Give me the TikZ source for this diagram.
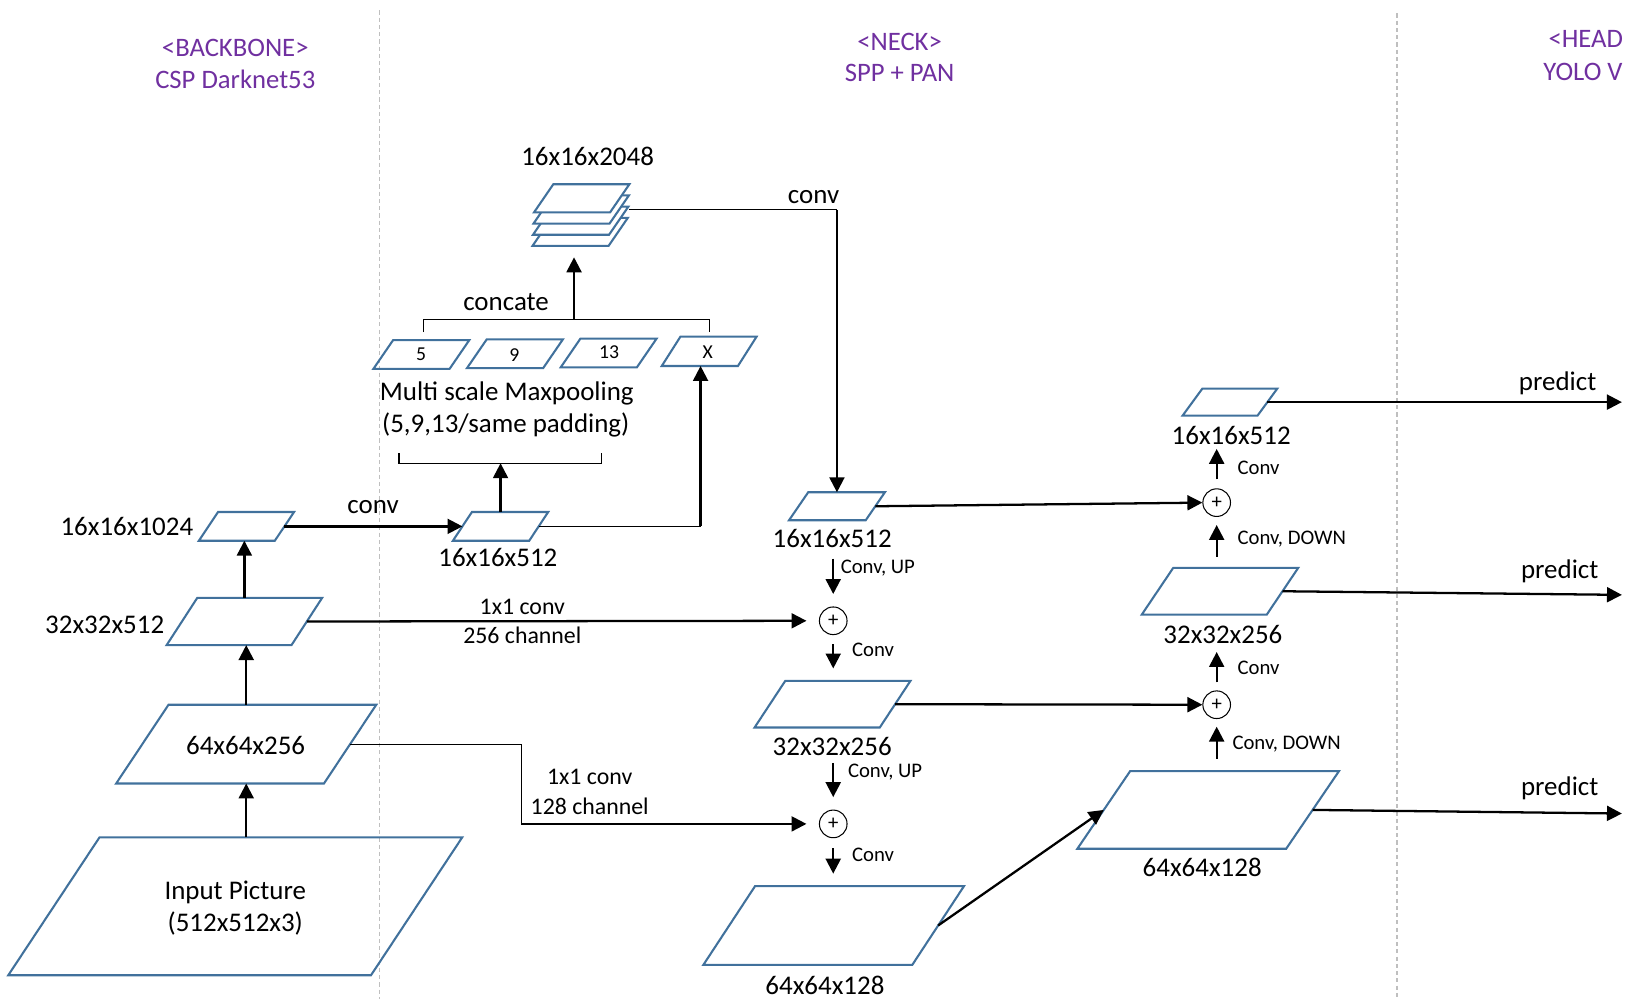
\documentclass[tikz,border=0pt]{standalone}
\usepackage{fontspec}
\setmainfont{Carlito}
\usetikzlibrary{arrows.meta,calc}
\definecolor{boxblue}{HTML}{41719C}
\definecolor{hdrpurple}{HTML}{7030A0}
\definecolor{sepgray}{HTML}{BFBFBF}
\tikzset{
  boxline/.style={draw=boxblue, line width=1.5pt, line join=miter},
  lblbig/.style={font=\fontsize{19.5pt}{23.25pt}\selectfont, inner sep=0pt},
  lblmid/.style={font=\fontsize{17.25pt}{21pt}\selectfont, inner sep=0pt},
  lblsml/.style={font=\fontsize{15pt}{18pt}\selectfont, inner sep=0pt},
  lblbox/.style={font=\fontsize{14.25pt}{17pt}\selectfont, inner sep=0pt},
  hdr/.style={font=\fontsize{19.3pt}{22pt}\selectfont, text=hdrpurple, inner sep=0pt},
  arr/.style={line width=1.65pt, -{Triangle[length=10.8pt,width=10.8pt]}},
  thinln/.style={line width=0.75pt},
  plusnode/.style={circle, draw, line width=0.75pt, minimum size=20pt, inner sep=0pt, font=\fontsize{15pt}{18pt}\selectfont},
  sepline/.style={draw=sepgray, line width=0.75pt, dash pattern=on 3pt off 2.25pt},
}
% name, cx, cy, w, h, skew, extra draw options
\newcommand\mkpara[7]{%
  \node[inner sep=0pt, outer sep=0pt, minimum width=#4*0.75pt, minimum height=#5*0.75pt] (#1) at (#2,#3) {};
  \draw[boxline,#7] ($(#1.north west)+(#6/2,0)$) -- ($(#1.north east)+(#6/2,0)$) -- ($(#1.south east)+(-#6/2,0)$) -- ($(#1.south west)+(-#6/2,0)$) -- cycle;
}
\begin{document}
\begin{tikzpicture}[x=0.75pt,y=-0.75pt]
\useasboundingbox (0,0) rectangle (1568,964);
\clip (0,0) rectangle (1568,964);

% separators
\draw[sepline] (366,10) -- (366,964);
\draw[sepline] (1348,13) -- (1348,964);

% headers
\node[hdr] (hb1) at (227,46) {<BACKBONE>};
\node[hdr] (hb2) at (227,77) {CSP Darknet53};
\node[hdr] (hn1) at (868,40) {<NECK>};
\node[hdr] (hn2) at (868,70) {SPP + PAN};
\node[hdr, anchor=west] (hh1) at (1494,38) {<HEAD};
\node[hdr, anchor=east] (hh2) at (1566,69) {YOLO V};

% backbone
\mkpara{inp}{227}{874.5}{350}{133}{88}{}
\node[lblbig, align=center] (inpt) at (227,876.5) {Input Picture\\(512x512x3)};
\mkpara{b256}{237.6}{718}{200.5}{76}{50.5}{}
\node[lblbig] (b256t) at (237,719) {64x64x256};
\mkpara{b512}{235.8}{599.7}{120.5}{45.5}{29.5}{}
\node[lblbig] (b512t) at (101,603) {32x32x512};
\mkpara{b1024}{237.8}{507.9}{73.3}{27.7}{18.5}{}
\node[lblbig] (b1024t) at (122.4,508) {16x16x1024};
\mkpara{spp}{483}{507.9}{73.6}{27.7}{18.3}{}
\node[lblbig] (sppt) at (480.4,537.8) {16x16x512};

\draw[arr] (b256.south |- inp.north) -- (b256.south);
\draw[arr] (b256.north) -- (b256.north |- b512.south);
\draw[arr] (b512.north) -- (b512.north |- b1024.south);
\draw[arr] (b1024.east) -- (spp.west);
\node[lblbig] (convA) at (360,489) {conv};

% SPP
\draw[thinln] (385,437.5) -- (385,447) -- (580,447) -- (580,437.5);
\coordinate (brk2) at (483,447);
\draw[arr] (spp.north) -- (brk2);
\node[lblbig] (ms1) at (489,379.5) {Multi scale Maxpooling};
\node[lblbig] (ms2) at (488,410) {(5,9,13/same padding)};

\mkpara{k5}{406.6}{342}{73.5}{27.7}{19}{}
\node[lblbox] (k5t) at (406.3,341.9) {5};
\mkpara{k9}{496.9}{341.3}{73.5}{27.7}{19}{}
\node[lblbox] (k9t) at (496.3,342.6) {9};
\mkpara{k13}{587.3}{340.6}{73.5}{27.7}{19}{}
\node[lblbox] (k13t) at (587.7,339.7) {13};
\mkpara{kx}{684.3}{339}{73.5}{28.3}{18}{}
\node[lblbox] (kxt) at (682.9,339.7) {X};

\coordinate (cX) at (676,507.9);
\draw[thinln] (spp.east) -- (cX);
\draw[arr] (cX) -- (cX |- kx.south);

\draw[thinln] (408.5,320.4) -- (408.5,308.1) -- (684.5,308.1) -- (684.5,320.4);
\node[lblbig] (conc) at (488.3,291.5) {concate};
\coordinate (brk1) at (553.9,308.1);

\mkpara{stack4}{559.8}{223.75}{73.4}{27.1}{18.6}{fill=white}
\mkpara{stack3}{560.3}{212.95}{73.4}{27.1}{18.6}{fill=white}
\mkpara{stack2}{560.8}{202.15}{73.4}{27.1}{18.6}{fill=white}
\mkpara{stack}{561.3}{191.35}{73.4}{27.1}{18.6}{fill=white}
\node[lblbig] (stackt) at (567,150.5) {16x16x2048};
\draw[arr, shorten >=8.25pt] (brk1) -- (brk1 |- stack4.south);

% neck
\mkpara{neck16}{807.6}{488.5}{74}{27}{18.5}{}
\node[lblbig] (neck16t) at (803,520) {16x16x512};
\coordinate (sOut) at (607,202.4);
\coordinate (sCor) at (807.6,202.4);
\draw[thinln] (sOut) -- (sCor);
\draw[arr] (sCor) -- (neck16.north);
\node[lblbig] (convB) at (785,190) {conv};

\node[plusnode] (p1) at (804,599) {+};
\draw[arr, shorten <=7.5pt, shorten >=9pt] (neck16t.south -| p1) -- (p1.north);
\node[lblsml, anchor=west] (cu1) at (811,548) {Conv, UP};
\mkpara{neck32}{803.3}{679.5}{120.8}{45}{29.6}{}
\node[lblbig] (neck32t) at (803,720) {32x32x256};
\draw[arr, shorten <=6.5pt, shorten >=9pt] (p1.south) -- (p1 |- neck32.north);
\node[lblsml, anchor=west] (cv1) at (822,627) {Conv};

\node[plusnode] (p2) at (804,795) {+};
\draw[arr, shorten <=5.25pt, shorten >=9pt] (neck32t.south -| p2) -- (p2.north);
\node[lblsml, anchor=west] (cu2) at (818,745) {Conv, UP};
\mkpara{neck64}{804.45}{893}{201.6}{76}{49.9}{}
\node[lblbig] (neck64t) at (796,951) {64x64x128};
\draw[arr, shorten <=7.3pt, shorten >=9pt] (p2.south) -- (p2 |- neck64.north);
\node[lblsml, anchor=west] (cv2) at (822,825) {Conv};

% backbone -> neck
\draw[arr, shorten >=9pt] (b512.east) -- (p1.west);
\node[lblmid] (c256a) at (504,586) {1x1 conv};
\node[lblmid] (c256b) at (504,613) {256 channel};
\coordinate (c1) at (503,718);
\coordinate (c2) at (503,795);
\draw[thinln] (b256.east) -- (c1) -- (c2);
\draw[arr, shorten >=9pt] (c2) -- (p2.west);
\node[lblmid] (c128a) at (569,750) {1x1 conv};
\node[lblmid] (c128b) at (569,778) {128 channel};

% head
\mkpara{head64}{1165.8}{781.5}{201.5}{75}{51}{}
\node[lblbig] (head64t) at (1160,837) {64x64x128};
\draw[arr] (neck64.east) -- (head64.west);

\node[plusnode] (pA) at (1174,680) {+};
\draw[arr] (neck32.east) -- (pA.west);
\draw[arr, shorten <=9pt, shorten >=5.5pt] (pA |- head64.north) -- (pA.south);
\node[lblsml, anchor=west] (cdA) at (1189,718) {Conv, DOWN};

\mkpara{head32}{1177.2}{570.5}{120.6}{45}{30.3}{}
\node[lblbig] (head32t) at (1180,612) {32x32x256};
\draw[arr, shorten <=5.8pt, shorten >=6pt] (pA.north) -- (pA |- head32t.south);
\node[lblsml, anchor=west] (cvA) at (1194,644) {Conv};

\node[plusnode] (pB) at (1174,485) {+};
\draw[arr] (neck16.east) -- (pB.west);
\draw[arr, shorten <=8.25pt, shorten >=5.8pt] (pB |- head32.north) -- (pB.south);
\node[lblsml, anchor=west] (cdB) at (1194,520) {Conv, DOWN};

\mkpara{head16}{1186.8}{388}{72.3}{26}{19}{}
\node[lblbig] (head16t) at (1188,420) {16x16x512};
\draw[arr, shorten <=6.5pt, shorten >=3pt] (pB.north) -- (pB |- head16t.south);
\node[lblsml, anchor=west] (cvB) at (1194,451) {Conv};

% predictions
\coordinate (o1) at (1565,388);
\coordinate (o2) at (1565,574);
\coordinate (o3) at (1565,785);
\draw[arr] (head16.east) -- (o1);
\node[lblbig] (pr1) at (1503,370) {predict};
\draw[arr] (head32.east) -- (o2);
\node[lblbig] (pr2) at (1505,551) {predict};
\draw[arr] (head64.east) -- (o3);
\node[lblbig] (pr3) at (1505,761) {predict};
\end{tikzpicture}
\end{document}
